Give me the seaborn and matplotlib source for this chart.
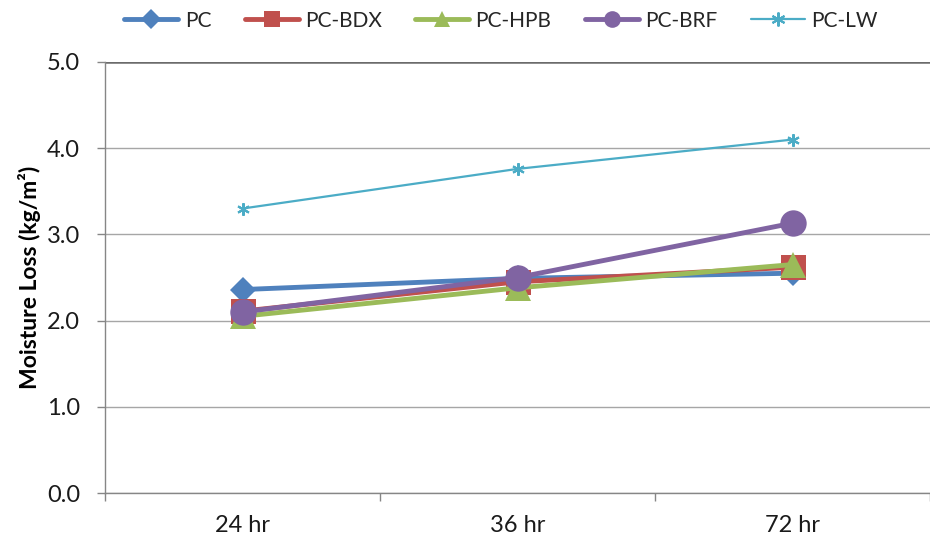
import matplotlib
matplotlib.use("Agg")
import matplotlib.pyplot as plt
from matplotlib.lines import Line2D
import numpy as np
import pandas as pd
import seaborn as sns

categories = ["24 hr", "36 hr", "72 hr"]
pc = [2.36, 2.49, 2.55]
pc_bdx = [2.11, 2.45, 2.62]
pc_hpb = [2.05, 2.38, 2.65]
pc_brf = [2.10, 2.50, 3.13]
pc_lw = [3.30, 3.76, 4.10]
series_names = ["PC", "PC-BDX", "PC-HPB", "PC-BRF", "PC-LW"]
y_ticks = [0.0, 1.0, 2.0, 3.0, 4.0, 5.0]

sns.set_theme(style="white")
plt.rcParams["font.family"] = ["Lato", "DejaVu Sans"]

colors = ["#4F81BD", "#C0504D", "#9BBB59", "#8064A2", "#4BACC6"]
markers = ["D", "s", "^", "o", (6, 2, 0)]
msizes = [13, 18, 19, 19, 9]
lws = [3.5, 3.5, 3.5, 3.5, 1.6]
leg_msizes = [10, 12, 12, 12, 10]

fig = plt.figure(figsize=(9.3, 5.42), dpi=100)
ax = fig.add_axes([105 / 930, 49 / 542, 1 - 105 / 930, (493 - 62) / 542])

all_vals = [pc, pc_bdx, pc_hpb, pc_brf, pc_lw]
for i, (name, vals) in enumerate(zip(series_names, all_vals)):
    df = pd.DataFrame({"x": categories, "y": vals})
    mew = 1.5 if i == 4 else 0
    sns.lineplot(data=df, x="x", y="y", ax=ax, color=colors[i], lw=lws[i],
                 marker=markers[i], markersize=msizes[i], markeredgewidth=mew,
                 markeredgecolor=colors[i], zorder=3 + i, sort=False, legend=False)

n = len(categories)
ax.set_xlim(-0.5, -0.5 + (930 - 105) / 278)
ax.set_ylim(y_ticks[0], y_ticks[-1])
ax.set_yticks(y_ticks)
ax.set_yticklabels([f"{v:.1f}" for v in y_ticks])
ax.set_xticks(range(n))
ax.set_xticklabels(categories)
ax.set_xticks(np.arange(n + 1) - 0.5, minor=True)
ax.tick_params(axis="x", which="major", length=0, pad=16, labelsize=17, labelcolor="#1a1a1a")
ax.tick_params(axis="x", which="minor", length=6, width=1, color="#868686", direction="out", bottom=True)
ax.tick_params(axis="y", which="major", length=6, width=1, color="#868686", direction="out",
               left=True, pad=12, labelsize=17, labelcolor="#1a1a1a")
ax.set_xlabel("")
ax.set_ylabel("Moisture Loss (kg/m²)", fontsize=16.5, fontweight="bold", labelpad=4, color="black")

ax.yaxis.grid(True, color="#A6A6A6", lw=1)
ax.xaxis.grid(False)
gl = ax.yaxis.get_gridlines()
gl[-1].set_color("#6b6b6b")
gl[-1].set_linewidth(1.8)
ax.set_axisbelow(True)
for s in ["top", "right"]:
    ax.spines[s].set_visible(False)
for s in ["left", "bottom"]:
    ax.spines[s].set_color("#868686")
    ax.spines[s].set_linewidth(1)

handles = [Line2D([], [], color=colors[i], lw=lws[i] if i < 4 else 1.6, marker=markers[i],
                  markersize=leg_msizes[i], markeredgewidth=1.5 if i == 4 else 0,
                  markeredgecolor=colors[i]) for i in range(5)]
fig.legend(handles, series_names, loc="upper center", bbox_to_anchor=(501 / 930, 1.015),
           ncol=5, frameon=False, fontsize=15, handlelength=2.6, handletextpad=0.3,
           columnspacing=1.6)

fig.savefig("out.png", dpi=100)
